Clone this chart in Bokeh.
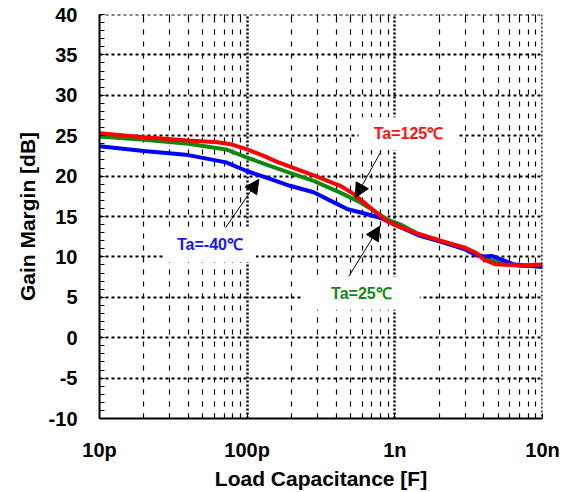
from bokeh.plotting import figure
from bokeh.models import (FixedTicker, LogAxis, Label, Arrow, NormalHead, Span)
from bokeh.embed import file_html
from bokeh.resources import INLINE

# ---- data (capacitance in pF, gain margin in dB) ----
red_c = [10, 20, 40, 63, 79, 100, 126, 158, 282, 427, 525, 724, 891, 1122, 1479, 2042, 3020, 3548, 4074, 4786, 7079, 10000]
red_gm = [25.3, 24.8, 24.4, 24.2, 23.9, 23.3, 22.6, 21.8, 20.1, 18.8, 17.8, 15.7, 14.4, 13.6, 12.8, 12.0, 11.1, 10.5, 9.6, 9.1, 8.95, 9.05]

green_c = [10, 20, 40, 72, 100, 141, 195, 282, 427, 562, 724, 891, 1096, 1479, 2042, 3020, 3548, 4467, 5248, 7079, 10000]
green_gm = [24.9, 24.5, 24.0, 23.3, 22.3, 21.3, 20.4, 19.4, 17.95, 16.9, 15.7, 14.6, 14.0, 12.7, 11.9, 11.0, 10.4, 9.6, 9.25, 8.9, 8.85]

blue_c = [10, 20, 40, 72, 100, 141, 195, 282, 363, 479, 589, 794, 1000, 1479, 2042, 3020, 3548, 3981, 4571, 5248, 6310, 8318, 10000]
blue_gm = [23.7, 23.1, 22.6, 21.7, 20.6, 19.7, 18.8, 18.0, 17.0, 15.9, 15.5, 14.85, 14.0, 12.6, 11.9, 10.9, 10.2, 10.05, 10.1, 9.7, 9.1, 8.86, 8.75]

x_ticks = [1e-11, 1e-10, 1e-9, 1e-8]
x_tick_labels = ["10p", "100p", "1n", "10n"]
y_ticks = [-10, -5, 0, 5, 10, 15, 20, 25, 30, 35, 40]
y_tick_labels = ["-10", "-5", "0", "5", "10", "15", "20", "25", "30", "35", "40"]

# annotation texts: (label, x[F], y[dB], colour)
labels = [("Ta=-40\u2103", 5.6e-11, 11.55, "#1515ff"),
          ("Ta=25\u2103", 5.94e-10, 5.5, "#118811"),
          ("Ta=125\u2103", 1.236e-9, 25.25, "#ff1010")]
# arrows: (x_start, y_start, x_end, y_end)
arrows = [(7.13e-11, 13.6, 1.2e-10, 19.6),
          (4.88e-10, 7.6, 7.91e-10, 13.8),
          (7.98e-10, 22.9, 5.41e-10, 17.35)]

pF = 1e-12
FONT = "Liberation Sans"

p = figure(width=568, height=492, x_axis_type="log",
           x_range=(1e-11, 1e-8), y_range=(-10, 40),
           output_backend="svg", toolbar_location=None,
           min_border_left=99, min_border_right=26,
           min_border_top=14, min_border_bottom=74)
p.outline_line_color = None
p.background_fill_color = "white"

minor_x = [m * t for t in x_ticks[:-1] for m in range(2, 10)]
xt = FixedTicker(ticks=x_ticks, minor_ticks=minor_x)
yt = FixedTicker(ticks=y_ticks, minor_ticks=list(range(-10, 41)))

xa = p.xaxis[0]
xa.ticker = xt
xa.major_label_overrides = {t: l for t, l in zip(x_ticks, x_tick_labels)}
xa.axis_label = "Load Capacitance [F]"
ya = p.yaxis[0]
ya.ticker = yt
ya.major_label_overrides = {t: l for t, l in zip(y_ticks, y_tick_labels)}
ya.axis_label = "Gain Margin [dB]"

for ax in (xa, ya):
    ax.axis_line_width = 2
    ax.axis_line_color = "black"
    ax.major_tick_in = 5
    ax.major_tick_out = 0
    ax.minor_tick_in = 5
    ax.minor_tick_out = 0
    ax.major_tick_line_color = "black"
    ax.minor_tick_line_color = "black"
    ax.major_label_text_font = FONT
    ax.major_label_text_font_style = "bold"
    ax.major_label_text_font_size = "20px"
    ax.major_label_text_color = "black"
    ax.axis_label_text_font = FONT
    ax.axis_label_text_font_style = "bold"
    ax.axis_label_text_font_size = "21px"
    ax.axis_label_text_color = "black"
xa.major_label_standoff = 20
xa.axis_label_standoff = 3
ya.major_label_standoff = 22
ya.axis_label_standoff = 7

top = LogAxis(ticker=xt, axis_line_color=None, major_tick_in=0, major_tick_out=0,
              minor_tick_in=5, minor_tick_out=0, minor_tick_line_color="black",
              major_label_text_font_size="2px", major_label_text_color=None,
              major_label_standoff=0)
p.add_layout(top, "above")

p.xgrid.ticker = xt
p.ygrid.ticker = yt
p.xgrid.grid_line_color = "black"
p.xgrid.grid_line_dash = "2 2"
p.xgrid.grid_line_width = 2.5
p.xgrid.minor_grid_line_color = "black"
p.xgrid.minor_grid_line_dash = "5 7"
p.xgrid.minor_grid_line_width = 1.2
p.ygrid.grid_line_color = "black"
p.ygrid.grid_line_dash = "3 3"
p.ygrid.grid_line_width = 2

p.add_layout(Span(location=1e-8, dimension="height", line_color="black",
                  line_dash="2 2", line_width=2.5))
p.add_layout(Span(location=40, dimension="width", line_color="black",
                  line_dash="3 3", line_width=2))

p.line([c * pF for c in green_c], green_gm, line_color="#0f8a0f", line_width=4)
p.line([c * pF for c in blue_c], blue_gm, line_color="#0000ff", line_width=4)
p.line([c * pF for c in red_c], red_gm, line_color="#ff0000", line_width=4)

pads = [dict(left=13, right=13, top=9, bottom=9),
        dict(left=28, right=28, top=8, bottom=8),
        dict(left=15, right=15, top=8, bottom=8)]
for (txt, x, y, col), pad in zip(labels, pads):
    p.add_layout(Label(x=x, y=y, text=txt, text_color=col, text_font=FONT,
                       text_font_style="bold", text_font_size="16px",
                       text_align="center", text_baseline="middle",
                       background_fill_color="white", padding=pad))

for (x0, y0, x1, y1) in arrows:
    p.add_layout(Arrow(x_start=x0, y_start=y0, x_end=x1, y_end=y1,
                       line_color="black", line_width=1,
                       end=NormalHead(size=14, fill_color="black", line_color="black")))

open("out.html", "w").write(file_html(p, INLINE))
